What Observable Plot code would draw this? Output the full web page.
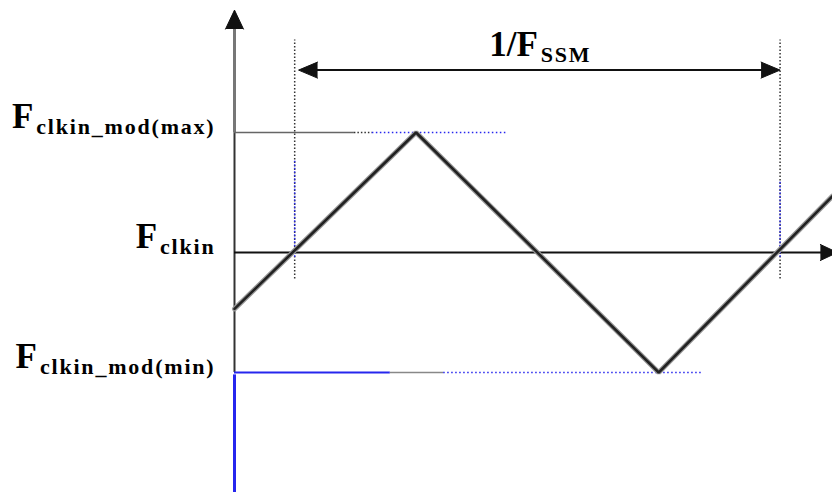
<!DOCTYPE html>
<html><head><meta charset="utf-8">
<script src="https://cdn.jsdelivr.net/npm/d3@7"></script>
<script src="https://cdn.jsdelivr.net/npm/@observablehq/plot@0.6"></script>
<style>
html,body{margin:0;padding:0;background:#fff;overflow:hidden;}
#chart svg{display:block;}
</style></head><body><div id="chart"></div>
<script>
// ---- Data ----
// triangle modulation waveform: time in modulation periods, frequency as normalized deviation
const waveTime = [-0.124, 0.25, 0.75, 1.108];
const waveFreq = [-0.47, 1, -1, 0.47];
// frequency levels on the vertical axis
const levelLabels = ["F|clkin_mod(max)", "F|clkin", "F|clkin_mod(min)"];
const levelValues = [1, 0, -1];
// zero crossings bounding one modulation period
const periodStarts = [0, 1];
const periodLabel = "1/F|SSM";

// axis extents
const tAxis = -0.124, tEnd = 1.108;
const fTop = 2.02, fBottom = -2, fDim = 1.52, fPeriodText = 1.64;
const BLUE = "#2626ee";

const wave = waveTime.map((t, i) => ({t, f: waveFreq[i]}));
const levels = levelLabels.map((label, i) => ({label, f: levelValues[i]}));

const serif = "Liberation Serif, Times New Roman, serif";

const plot = Plot.plot({
  width: 832, height: 492,
  marginLeft: 234, marginRight: 0, marginTop: 0, marginBottom: 0,
  x: {domain: [tAxis, tEnd], axis: null},
  y: {domain: [-2, 2.1], axis: null},
  style: {background: "#fff", overflow: "hidden"},
  marks: [
    // vertical (frequency) axis
    Plot.ruleX([tAxis], {y1: 1, y2: 1.98, stroke: "#777", strokeWidth: 3}),
    Plot.ruleX([tAxis], {y1: -1, y2: 1, stroke: "#333", strokeWidth: 2}),
    Plot.ruleX([tAxis], {y1: fBottom, y2: -1.02, stroke: BLUE, strokeWidth: 3}),
    Plot.vector([{t: tAxis, f: fTop}], {x: "t", y: "f", rotate: 0, length: 19, r: 9, shape: "spike", anchor: "end", fill: "#111", stroke: "#111", strokeWidth: 1}),
    // level lines
    Plot.ruleY([levelValues[0]], {x1: tAxis, x2: 0.123, stroke: "#666", strokeWidth: 1.5}),
    Plot.ruleY([levelValues[0]], {x1: 0.123, x2: 0.16, stroke: "#333", strokeWidth: 1.5, strokeDasharray: "1.5,2"}),
    Plot.ruleY([levelValues[0]], {x1: 0.16, x2: 0.44, stroke: BLUE, strokeWidth: 1.5, strokeDasharray: "1.5,2.5"}),
    Plot.ruleY([levelValues[2]], {x1: tAxis, x2: 0.197, stroke: BLUE, strokeWidth: 2}),
    Plot.ruleY([levelValues[2]], {x1: 0.197, x2: 0.307, stroke: "#888", strokeWidth: 1.5}),
    Plot.ruleY([levelValues[2]], {x1: 0.307, x2: 0.84, stroke: BLUE, strokeWidth: 1.5, strokeDasharray: "1.5,2.5"}),
    // time axis at nominal frequency
    Plot.ruleY([levelValues[1]], {x1: tAxis, x2: 1.09, stroke: "#111", strokeWidth: 2}),
    Plot.vector([{t: 1.118, f: 0}], {x: "t", y: "f", rotate: 90, length: 17, r: 8, shape: "spike", anchor: "end", fill: "#111", stroke: "#111", strokeWidth: 1}),
    // period markers (dotted)
    Plot.ruleX(periodStarts, {y1: -0.22, y2: 1.77, stroke: "#333", strokeWidth: 1.5, strokeDasharray: "1.5,2"}),
    Plot.ruleX([periodStarts[0]], {y1: -0.04, y2: 0.77, stroke: BLUE, strokeWidth: 1.5, strokeDasharray: "1.5,2"}),
    Plot.ruleX([periodStarts[1]], {y1: -0.04, y2: 0.6, stroke: BLUE, strokeWidth: 1.5, strokeDasharray: "1.5,2"}),
    // period dimension arrow
    Plot.ruleY([fDim], {x1: 0.03, x2: 0.97, stroke: "#111", strokeWidth: 2}),
    Plot.vector([{t: 0.008, f: fDim}], {x: "t", y: "f", rotate: -90, length: 19, r: 8, shape: "spike", anchor: "end", fill: "#111", stroke: "#111", strokeWidth: 1}),
    Plot.vector([{t: 1.0, f: fDim}], {x: "t", y: "f", rotate: 90, length: 19, r: 8, shape: "spike", anchor: "end", fill: "#111", stroke: "#111", strokeWidth: 1}),
    // waveform
    Plot.line(wave, {x: "t", y: "f", stroke: "#999", strokeWidth: 5, strokeLinejoin: "miter"}),
    Plot.line(wave, {x: "t", y: "f", stroke: "#222", strokeWidth: 2.6, strokeLinejoin: "miter"}),
    // labels
    Plot.text(levels, {x: tAxis, y: "f", text: "label", textAnchor: "end", lineAnchor: "bottom", dx: -19, dy: -5, fontFamily: serif, fontSize: 36, fill: "#000"}),
    Plot.text([periodLabel], {x: 0.506, y: fPeriodText, text: d => d, textAnchor: "middle", lineAnchor: "bottom", fontFamily: serif, fontSize: 36, fill: "#000"})
  ]
});

// turn "Main|sub" labels into main letter + subscript
plot.querySelectorAll("text").forEach(el => {
  const s = el.textContent;
  if (!s.includes("|")) return;
  const [main, sub] = s.split("|");
  el.textContent = "";
  const ns = "http://www.w3.org/2000/svg";
  const a = document.createElementNS(ns, "tspan");
  a.textContent = main;
  a.setAttribute("font-size", "35");
  a.setAttribute("font-weight", "bold");
  const b = document.createElementNS(ns, "tspan");
  b.textContent = sub;
  b.setAttribute("font-size", "22");
  b.setAttribute("font-weight", "bold");
  b.setAttribute("dy", "6");
  b.setAttribute("dx", "3");
  b.setAttribute("letter-spacing", "1.8");
  el.appendChild(a); el.appendChild(b);
});

document.getElementById("chart").appendChild(plot);
</script></body></html>
